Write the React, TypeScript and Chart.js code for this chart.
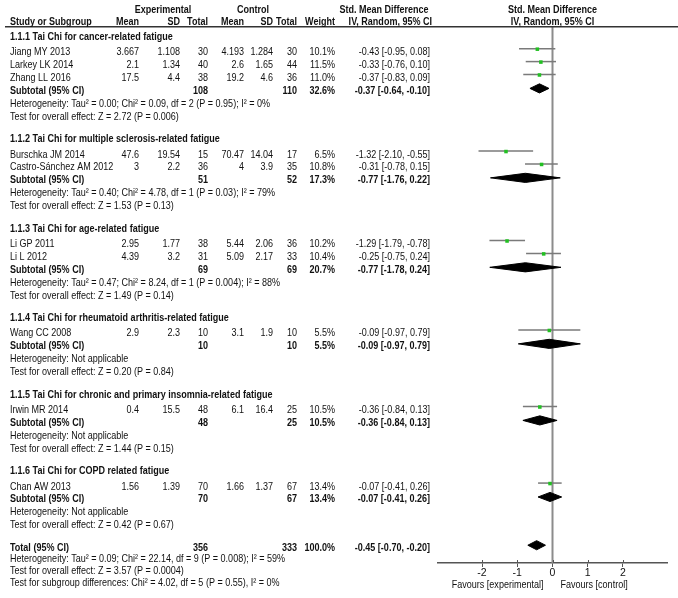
import React, { useEffect, useRef } from "react";
import { Chart, registerables } from "chart.js";

Chart.register(...registerables);

// ---------------- data ----------------
const GROUP_TITLES = [
  "1.1.1 Tai Chi for cancer-related fatigue",
  "1.1.2 Tai Chi for multiple sclerosis-related fatigue",
  "1.1.3 Tai Chi for age-related fatigue",
  "1.1.4 Tai Chi for rheumatoid arthritis-related fatigue",
  "1.1.5 Tai Chi for chronic and primary insomnia-related fatigue",
  "1.1.6 Tai Chi for COPD related fatigue",
];
const STUDY_GROUP = [0, 0, 0, 1, 1, 2, 2, 3, 4, 5];
const STUDY_NAMES = [
  "Jiang MY 2013",
  "Larkey LK 2014",
  "Zhang LL 2016",
  "Burschka JM 2014",
  "Castro-Sánchez AM 2012",
  "Li GP 2011",
  "Li L 2012",
  "Wang CC 2008",
  "Irwin MR 2014",
  "Chan AW 2013",
];
const EXP_MEAN = [3.667, 2.1, 17.5, 47.6, 3, 2.95, 4.39, 2.9, 0.4, 1.56];
const EXP_SD = [1.108, 1.34, 4.4, 19.54, 2.2, 1.77, 3.2, 2.3, 15.5, 1.39];
const EXP_N = [30, 40, 38, 15, 36, 38, 31, 10, 48, 70];
const CTL_MEAN = [4.193, 2.6, 19.2, 70.47, 4, 5.44, 5.09, 3.1, 6.1, 1.66];
const CTL_SD = [1.284, 1.65, 4.6, 14.04, 3.9, 2.06, 2.17, 1.9, 16.4, 1.37];
const CTL_N = [30, 44, 36, 17, 35, 36, 33, 10, 25, 67];
const WEIGHT = [10.1, 11.5, 11.0, 6.5, 10.8, 10.2, 10.4, 5.5, 10.5, 13.4];
const SMD = [-0.43, -0.33, -0.37, -1.32, -0.31, -1.29, -0.25, -0.09, -0.36, -0.07];
const CI_LO = [-0.95, -0.76, -0.83, -2.1, -0.78, -1.79, -0.75, -0.97, -0.84, -0.41];
const CI_HI = [0.08, 0.1, 0.09, -0.55, 0.15, -0.78, 0.24, 0.79, 0.13, 0.26];

const SUB_EXP_N = [108, 51, 69, 10, 48, 70];
const SUB_CTL_N = [110, 52, 69, 10, 25, 67];
const SUB_WEIGHT = [32.6, 17.3, 20.7, 5.5, 10.5, 13.4];
const SUB_SMD = [-0.37, -0.77, -0.77, -0.09, -0.36, -0.07];
const SUB_LO = [-0.64, -1.76, -1.78, -0.97, -0.84, -0.41];
const SUB_HI = [-0.1, 0.22, 0.24, 0.79, 0.13, 0.26];
const SUB_HET = [
  "Heterogeneity: Tau² = 0.00; Chi² = 0.09, df = 2 (P = 0.95); I² = 0%",
  "Heterogeneity: Tau² = 0.40; Chi² = 4.78, df = 1 (P = 0.03); I² = 79%",
  "Heterogeneity: Tau² = 0.47; Chi² = 8.24, df = 1 (P = 0.004); I² = 88%",
  "Heterogeneity: Not applicable",
  "Heterogeneity: Not applicable",
  "Heterogeneity: Not applicable",
];
const SUB_TEST = [
  "Test for overall effect: Z = 2.72 (P = 0.006)",
  "Test for overall effect: Z = 1.53 (P = 0.13)",
  "Test for overall effect: Z = 1.49 (P = 0.14)",
  "Test for overall effect: Z = 0.20 (P = 0.84)",
  "Test for overall effect: Z = 1.44 (P = 0.15)",
  "Test for overall effect: Z = 0.42 (P = 0.67)",
];

const TOTAL_EXP_N = 356;
const TOTAL_CTL_N = 333;
const TOTAL_WEIGHT = 100.0;
const TOTAL_SMD = -0.45;
const TOTAL_LO = -0.7;
const TOTAL_HI = -0.2;
const TOTAL_NOTES = [
  "Heterogeneity: Tau² = 0.09; Chi² = 22.14, df = 9 (P = 0.008); I² = 59%",
  "Test for overall effect: Z = 3.57 (P = 0.0004)",
  "Test for subgroup differences: Chi² = 4.02, df = 5 (P = 0.55), I² = 0%",
];

const X_TICKS = [-2, -1, 0, 1, 2];
const X_MIN = -3.25;
const X_MAX = 3.25;
const FAVOURS = ["Favours [experimental]", "Favours [control]"];
const HEAD_GROUPS = ["Experimental", "Control", "Std. Mean Difference", "Std. Mean Difference"];
const HEAD_COLS = ["Study or Subgroup", "Mean", "SD", "Total", "Mean", "SD", "Total", "Weight", "IV, Random, 95% CI", "IV, Random, 95% CI"];

// ---------------- layout / style ----------------
const W = 678;
const H = 598;
const LAYOUT = {
  head1: 6,
  head2: 18.5,
  rule: 23,
  first: 33,
  headPitch: 15.5,
  pitch: 13,
  gap: 22.6,
  footPitch: 11.7,
  axis: 563,
  studyDy: -3.5,
  diamondDy: -2.5,
  diamondHalf: 4.6,
};
const COL = {
  left: 10,
  ruleLeft: 5,
  expMean: 139,
  expSD: 180,
  expN: 208,
  ctlMean: 244,
  ctlSD: 273,
  ctlN: 297,
  weight: 335,
  effect: 430,
  expCenter: 163,
  ctlCenter: 253,
  effCenter: 384,
  effHead2: 432,
};
const FONT_SIZE = 11;
const SX = 0.82;
const FAMILY = '"Liberation Sans", Arial, Helvetica, sans-serif';
const TEXT_COLOR = "#111";
const GREEN = "#22c022";
const CI_COLOR = "#7a7a7a";
const ZERO_COLOR = "#8c8c8c";

const f2 = (v: number) => v.toFixed(2);
const effText = (e: number, l: number, h: number) => `${f2(e)} [${f2(l)}, ${f2(h)}]`;
const wText = (w: number) => `${w.toFixed(1)}%`;

type Row = { type: string; y: number; idx?: number; text?: string };

function buildRows(): Row[] {
  const rows: Row[] = [];
  let y = LAYOUT.first;
  GROUP_TITLES.forEach((title, g) => {
    rows.push({ type: "group", y, idx: g, text: title });
    y += LAYOUT.headPitch;
    STUDY_GROUP.forEach((sg, i) => {
      if (sg === g) {
        rows.push({ type: "study", y, idx: i });
        y += LAYOUT.pitch;
      }
    });
    rows.push({ type: "subtotal", y, idx: g });
    y += LAYOUT.pitch;
    rows.push({ type: "note", y, text: SUB_HET[g] });
    y += LAYOUT.pitch;
    rows.push({ type: "note", y, text: SUB_TEST[g] });
    y += LAYOUT.gap;
  });
  rows.push({ type: "total", y });
  TOTAL_NOTES.forEach((t) => {
    y += LAYOUT.footPitch;
    rows.push({ type: "note", y, text: t });
  });
  return rows;
}

function drawText(ctx: CanvasRenderingContext2D, text: string, x: number, y: number, align: CanvasTextAlign, bold = false) {
  ctx.save();
  ctx.font = `${bold ? "bold " : ""}${FONT_SIZE}px ${FAMILY}`;
  ctx.fillStyle = TEXT_COLOR;
  ctx.textAlign = align;
  ctx.textBaseline = "middle";
  ctx.translate(x, y);
  ctx.scale(SX, 1);
  ctx.fillText(text, 0, 0);
  ctx.restore();
}

export default function App() {
  const ref = useRef<HTMLCanvasElement | null>(null);

  useEffect(() => {
    if (!ref.current) return;
    const rows = buildRows();

    const datasets: any[] = [];
    // zero line
    datasets.push({
      type: "line",
      data: [
        { x: 0, y: LAYOUT.rule },
        { x: 0, y: LAYOUT.axis },
      ],
      borderColor: ZERO_COLOR,
      borderWidth: 2,
      pointRadius: 0,
      order: 5,
      clip: false,
    });
    const squares: any[] = [];
    rows.forEach((r) => {
      if (r.type === "study") {
        const i = r.idx as number;
        const y = r.y + LAYOUT.studyDy;
        datasets.push({
          type: "line",
          data: [
            { x: CI_LO[i], y },
            { x: CI_HI[i], y },
          ],
          borderColor: CI_COLOR,
          borderWidth: 1.5,
          pointRadius: 0,
          order: 4,
          clip: false,
        });
        squares.push({ x: SMD[i], y: y + 0.5 });
      } else if (r.type === "subtotal" || r.type === "total") {
        const g = r.idx as number;
        const e = r.type === "total" ? TOTAL_SMD : SUB_SMD[g];
        const l = r.type === "total" ? TOTAL_LO : SUB_LO[g];
        const h = r.type === "total" ? TOTAL_HI : SUB_HI[g];
        const y = r.y + LAYOUT.diamondDy;
        const d = LAYOUT.diamondHalf;
        datasets.push({
          type: "line",
          data: [
            { x: l, y },
            { x: e, y: y - d },
            { x: h, y },
            { x: e, y: y + d },
            { x: l, y },
          ],
          borderColor: "#000",
          backgroundColor: "#000",
          borderWidth: 1,
          pointRadius: 0,
          fill: "shape",
          tension: 0,
          order: 3,
          clip: false,
        });
      }
    });
    datasets.push({
      type: "scatter",
      data: squares,
      pointStyle: "rect",
      pointRadius: 2.5,
      backgroundColor: GREEN,
      borderWidth: 0,
      order: 1,
      clip: false,
    });

    const textPlugin = {
      id: "forestText",
      afterDraw(chart: any) {
        const ctx: CanvasRenderingContext2D = chart.ctx;
        const xs = chart.scales.x;
        const ys = chart.scales.y;
        const py = (v: number) => ys.getPixelForValue(v);
        const zeroX = xs.getPixelForValue(0);

        // header rule
        ctx.save();
        ctx.strokeStyle = "#333";
        ctx.lineWidth = 1.5;
        ctx.beginPath();
        ctx.moveTo(COL.ruleLeft, py(LAYOUT.rule));
        ctx.lineTo(W, py(LAYOUT.rule));
        ctx.stroke();
        ctx.restore();

        // headers
        const h1 = py(LAYOUT.head1);
        const h2 = py(LAYOUT.head2);
        drawText(ctx, HEAD_GROUPS[0], COL.expCenter, h1, "center", true);
        drawText(ctx, HEAD_GROUPS[1], COL.ctlCenter, h1, "center", true);
        drawText(ctx, HEAD_GROUPS[2], COL.effCenter, h1, "center", true);
        drawText(ctx, HEAD_GROUPS[3], zeroX, h1, "center", true);
        drawText(ctx, HEAD_COLS[0], COL.left, h2, "left", true);
        drawText(ctx, HEAD_COLS[1], COL.expMean, h2, "right", true);
        drawText(ctx, HEAD_COLS[2], COL.expSD, h2, "right", true);
        drawText(ctx, HEAD_COLS[3], COL.expN, h2, "right", true);
        drawText(ctx, HEAD_COLS[4], COL.ctlMean, h2, "right", true);
        drawText(ctx, HEAD_COLS[5], COL.ctlSD, h2, "right", true);
        drawText(ctx, HEAD_COLS[6], COL.ctlN, h2, "right", true);
        drawText(ctx, HEAD_COLS[7], COL.weight, h2, "right", true);
        drawText(ctx, HEAD_COLS[8], COL.effHead2, h2, "right", true);
        drawText(ctx, HEAD_COLS[9], zeroX, h2, "center", true);

        rows.forEach((r) => {
          const y = py(r.y);
          if (r.type === "group") {
            drawText(ctx, r.text as string, COL.left, y, "left", true);
          } else if (r.type === "note") {
            drawText(ctx, r.text as string, COL.left, y, "left", false);
          } else if (r.type === "study") {
            const i = r.idx as number;
            drawText(ctx, STUDY_NAMES[i], COL.left, y, "left");
            drawText(ctx, String(EXP_MEAN[i]), COL.expMean, y, "right");
            drawText(ctx, String(EXP_SD[i]), COL.expSD, y, "right");
            drawText(ctx, String(EXP_N[i]), COL.expN, y, "right");
            drawText(ctx, String(CTL_MEAN[i]), COL.ctlMean, y, "right");
            drawText(ctx, String(CTL_SD[i]), COL.ctlSD, y, "right");
            drawText(ctx, String(CTL_N[i]), COL.ctlN, y, "right");
            drawText(ctx, wText(WEIGHT[i]), COL.weight, y, "right");
            drawText(ctx, effText(SMD[i], CI_LO[i], CI_HI[i]), COL.effect, y, "right");
          } else if (r.type === "subtotal") {
            const g = r.idx as number;
            drawText(ctx, "Subtotal (95% CI)", COL.left, y, "left", true);
            drawText(ctx, String(SUB_EXP_N[g]), COL.expN, y, "right", true);
            drawText(ctx, String(SUB_CTL_N[g]), COL.ctlN, y, "right", true);
            drawText(ctx, wText(SUB_WEIGHT[g]), COL.weight, y, "right", true);
            drawText(ctx, effText(SUB_SMD[g], SUB_LO[g], SUB_HI[g]), COL.effect, y, "right", true);
          } else if (r.type === "total") {
            drawText(ctx, "Total (95% CI)", COL.left, y, "left", true);
            drawText(ctx, String(TOTAL_EXP_N), COL.expN, y, "right", true);
            drawText(ctx, String(TOTAL_CTL_N), COL.ctlN, y, "right", true);
            drawText(ctx, wText(TOTAL_WEIGHT), COL.weight, y, "right", true);
            drawText(ctx, effText(TOTAL_SMD, TOTAL_LO, TOTAL_HI), COL.effect, y, "right", true);
          }
        });

        // upward tick marks
        const ay = py(LAYOUT.axis);
        ctx.save();
        ctx.strokeStyle = "#555";
        ctx.lineWidth = 1;
        X_TICKS.forEach((t) => {
          const x = Math.round(xs.getPixelForValue(t)) + 0.5;
          ctx.beginPath();
          ctx.moveTo(x, ay - 3);
          ctx.lineTo(x, ay);
          ctx.stroke();
        });
        ctx.restore();

        // favours labels
        const fy = ay + 22;
        drawText(ctx, FAVOURS[0], zeroX - 9, fy, "right");
        drawText(ctx, FAVOURS[1], zeroX + 8, fy, "left");
      },
    };

    const chart = new Chart(ref.current, {
      type: "scatter",
      data: { datasets },
      options: {
        responsive: false,
        maintainAspectRatio: false,
        devicePixelRatio: 1,
        animation: false,
        layout: { padding: { left: 438, right: W - 667, top: 0, bottom: 0 } },
        plugins: { legend: { display: false }, tooltip: { enabled: false } },
        scales: {
          x: {
            type: "linear",
            position: "bottom",
            min: X_MIN,
            max: X_MAX,
            afterBuildTicks: (s: any) => {
              s.ticks = X_TICKS.map((v) => ({ value: v }));
            },
            afterFit: (s: any) => {
              s.height = H - LAYOUT.axis;
            },
            grid: { drawOnChartArea: false, drawTicks: true, tickLength: 4, color: "#555", lineWidth: 1 },
            border: { display: true, color: "#555", width: 1.5 },
            ticks: {
              padding: 0,
              maxRotation: 0,
              autoSkip: false,
              color: TEXT_COLOR,
              font: { size: 10.5, family: FAMILY },
            },
          },
          y: {
            type: "linear",
            display: false,
            min: 0,
            max: LAYOUT.axis,
            reverse: true,
          },
        },
      } as any,
      plugins: [textPlugin],
    });
    return () => chart.destroy();
  }, []);

  return (
    <div style={{ position: "absolute", left: 0, top: 0, width: W, height: H, background: "#fff" }}>
      <canvas ref={ref} width={W} height={H} style={{ display: "block", width: W, height: H }} />
    </div>
  );
}
